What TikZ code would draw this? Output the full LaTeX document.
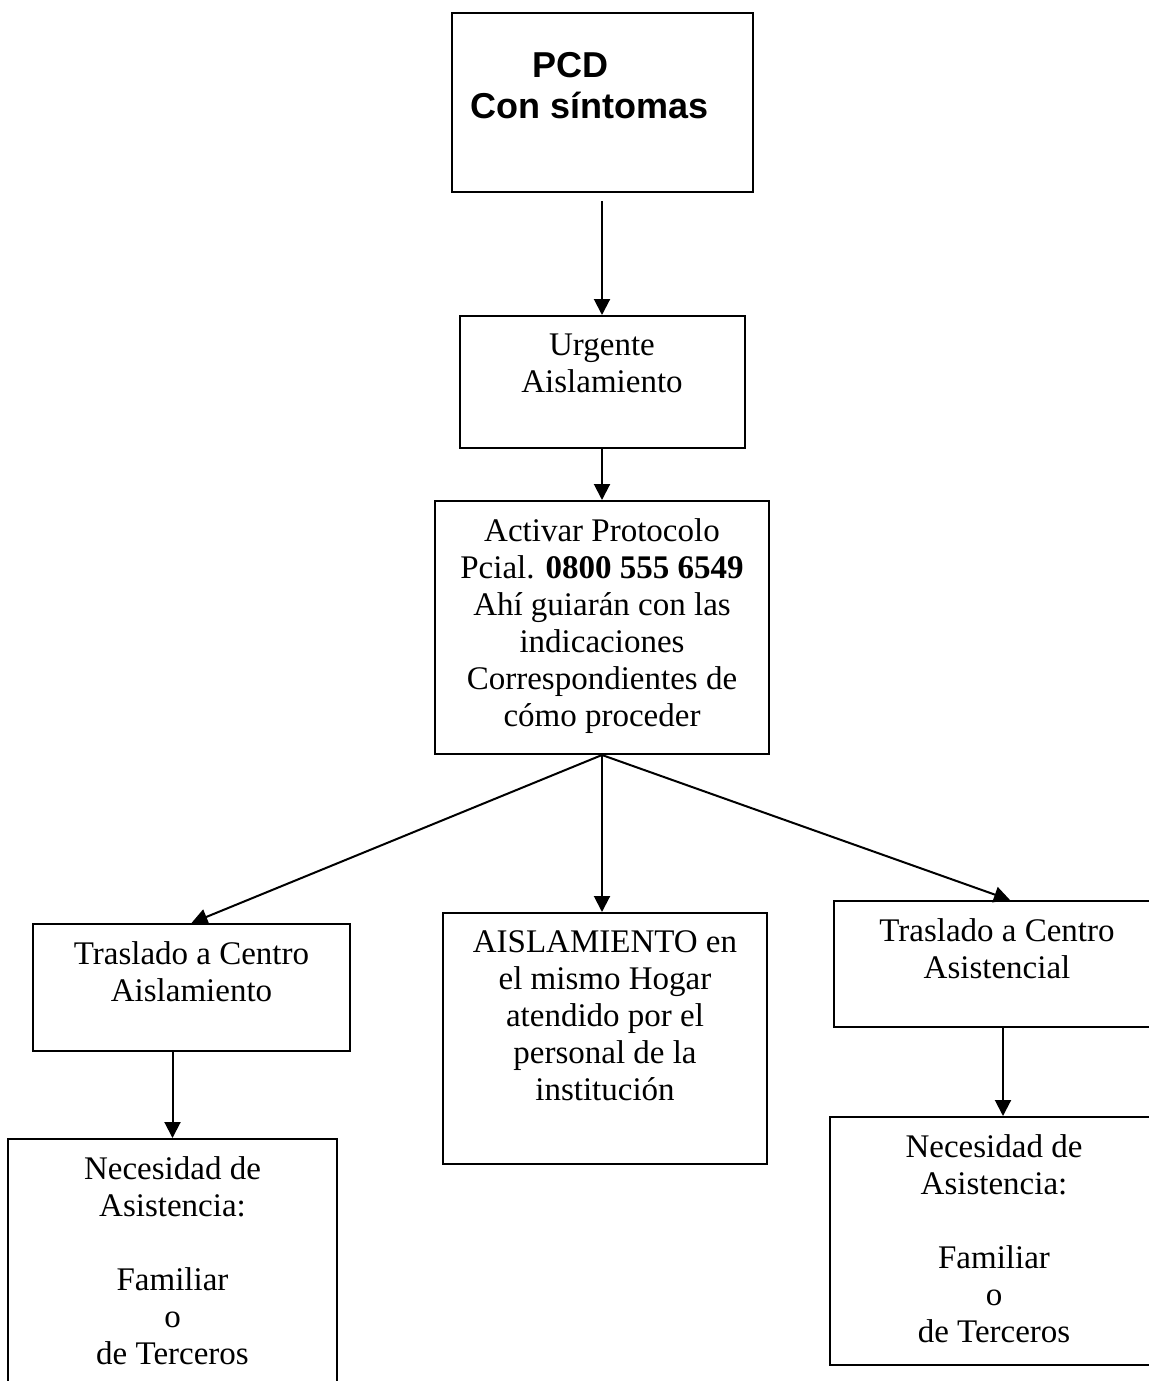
\documentclass[tikz,border=0pt]{standalone}
\usepackage{fontspec}
\setmainfont{Liberation Serif}
\newfontfamily\headfont{Liberation Sans}
\usetikzlibrary{arrows.meta, positioning}

\begin{document}
\begin{tikzpicture}[x=0.5pt, y=-0.5pt,
  box_node/.style={draw, line width=1pt, anchor=north, inner sep=0pt},
  txt_node/.style={align=center, anchor=north, inner sep=0pt, font=\fontsize{16.5}{18.5}\selectfont},
  flow_arrow/.style={-{Triangle[width=8pt, length=8pt]}, line width=1pt},
]
  \useasboundingbox (0,0) rectangle (1148,1381);
  % boxes
  \node[box_node, minimum width=150.5pt, minimum height=89.5pt] (pcd) at (602,12) {};
  \node[box_node, minimum width=142.5pt, minimum height=66pt] (urg) at (602,315) {};
  \node[box_node, minimum width=167pt, minimum height=126.5pt] (act) at (602,500) {};
  \node[box_node, minimum width=158.5pt, minimum height=63.5pt] (tca) at (191.5,923) {};
  \node[box_node, minimum width=162pt, minimum height=125.5pt] (hog) at (605,912) {};
  \node[box_node, minimum width=163pt, minimum height=63pt] (tcs) at (997,900) {};
  \node[box_node, minimum width=164.5pt, minimum height=124pt] (nec1) at (172.5,1138) {};
  \node[box_node, minimum width=164pt, minimum height=124pt] (nec2) at (994,1116) {};
  % texts
  \node[txt_node, below=20pt of pcd.north, xshift=-6pt,
    font=\headfont\bfseries\fontsize{18}{20.5}\selectfont] (pcd-t)
    {PCD\hspace*{20pt}\\Con síntomas};
  \node[txt_node, below=9pt of urg.north] (urg-t) {Urgente\\Aislamiento};
  \node[txt_node, below=9pt of act.north] (act-t)
    {Activar Protocolo\\Pcial. \textbf{0800 555 6549}\\Ahí guiarán con las\\indicaciones\\Correspondientes de\\cómo proceder};
  \node[txt_node, below=9pt of tca.north] (tca-t) {Traslado a Centro\\Aislamiento};
  \node[txt_node, below=9pt of hog.north] (hog-t)
    {AISLAMIENTO en\\el mismo Hogar\\atendido por el\\personal de la\\institución};
  \node[txt_node, below=9pt of tcs.north] (tcs-t) {Traslado a Centro\\Asistencial};
  \node[txt_node, below=9pt of nec1.north] (nec1-t)
    {Necesidad de\\Asistencia:\\\mbox{}\\Familiar\\o\\de Terceros};
  \node[txt_node, below=9pt of nec2.north] (nec2-t)
    {Necesidad de\\Asistencia:\\\mbox{}\\Familiar\\o\\de Terceros};
  % connectors
  \draw[flow_arrow] ([yshift=-4pt]pcd.south) -- (urg.north);
  \draw[flow_arrow] (urg.south) -- (act.north);
  \draw[flow_arrow] (act.south) -- (tca.north);
  \draw[flow_arrow] (act.south) -- (act.south |- hog.north);
  \draw[flow_arrow] (act.south) -- ([xshift=6.5pt]tcs.north);
  \draw[flow_arrow] (tca.south -| nec1.north) -- (nec1.north);
  \draw[flow_arrow] ([xshift=3pt]tcs.south) -- ([xshift=3pt]tcs.south |- nec2.north);
\end{tikzpicture}
\end{document}
